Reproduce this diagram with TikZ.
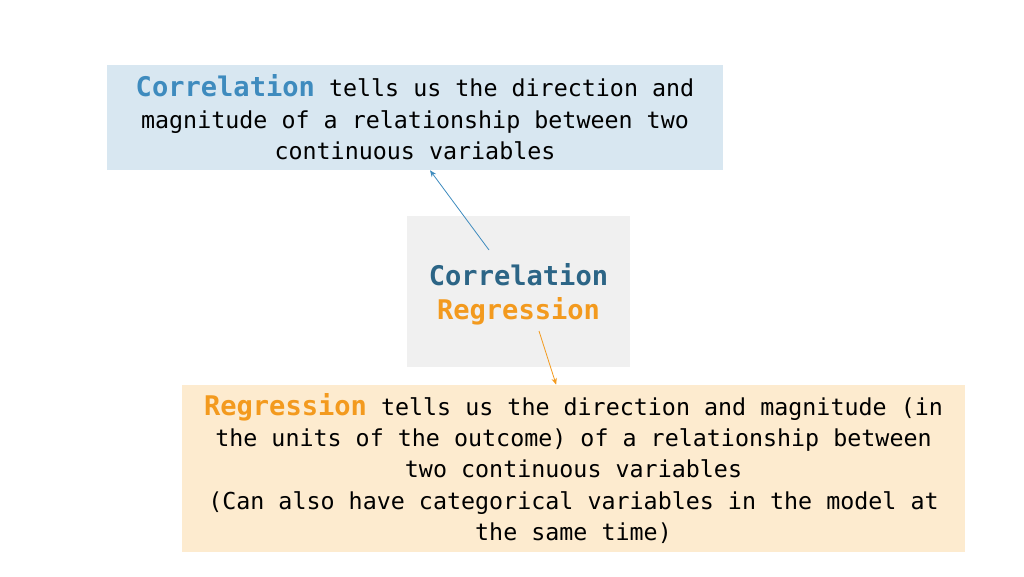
\documentclass[tikz,border=0pt]{standalone}
\usepackage{fontspec}
\setmonofont{DejaVu Sans Mono}
\usetikzlibrary{arrows.meta}
\definecolor{topfill}{RGB}{216,231,241}
\definecolor{midfill}{RGB}{240,240,240}
\definecolor{botfill}{RGB}{253,235,207}
\definecolor{corrlight}{RGB}{62,139,190}
\definecolor{corrdark}{RGB}{44,101,134}
\definecolor{regorange}{RGB}{243,154,30}
\tikzset{
    box/.style={rectangle,inner sep=0pt,align=center,
        font=\ttfamily\fontsize{17.5}{23.6}\selectfont},
    head/.style={font=\ttfamily\bfseries\fontsize{20.3}{26}\selectfont},
    link/.style={line width=0.6pt,-{Stealth[length=5pt,width=4pt]}}
}
\newcommand{\hcorr}{{\fontsize{20.3}{23.6}\selectfont\bfseries\color{corrlight}Correlation}}
\newcommand{\hreg}{{\fontsize{20.3}{23.6}\selectfont\bfseries\color{regorange}Regression}}
\begin{document}
\begin{tikzpicture}[x=0.75pt,y=-0.75pt]
            \useasboundingbox (0,0) rectangle (1024,576);
            \node[box,fill=topfill,minimum width=462pt,minimum height=78.75pt]
                (top) at (415,117.5)
                {\hcorr{} tells us the direction and\\
                 magnitude of a relationship between two\\
                 continuous variables};
            \node[box,fill=midfill,minimum width=167.25pt,minimum height=113.25pt]
                (mid) at (518.5,291.5) {};
            \node[head,text=corrdark] (corr) at (518.5,275) {Correlation};
            \node[head,text=regorange] (reg) at (518.5,311) {Regression};
            \node[box,fill=botfill,minimum width=587.25pt,minimum height=125.25pt]
                (bot) at (573.5,468.5)
                {\hreg{} tells us the direction and magnitude (in\\
                 the units of the outcome) of a relationship between\\
                 two continuous variables\\
                 (Can also have categorical variables in the model at\\
                 the same time)};
            \coordinate (c1) at (489,250);
            \coordinate (c2) at (539,331);
            \draw[link,corrlight] (c1) -- ([xshift=11.25pt]top.south);
            \draw[link,regorange] (c2) -- ([xshift=-13pt]bot.north);
\end{tikzpicture}
\end{document}
